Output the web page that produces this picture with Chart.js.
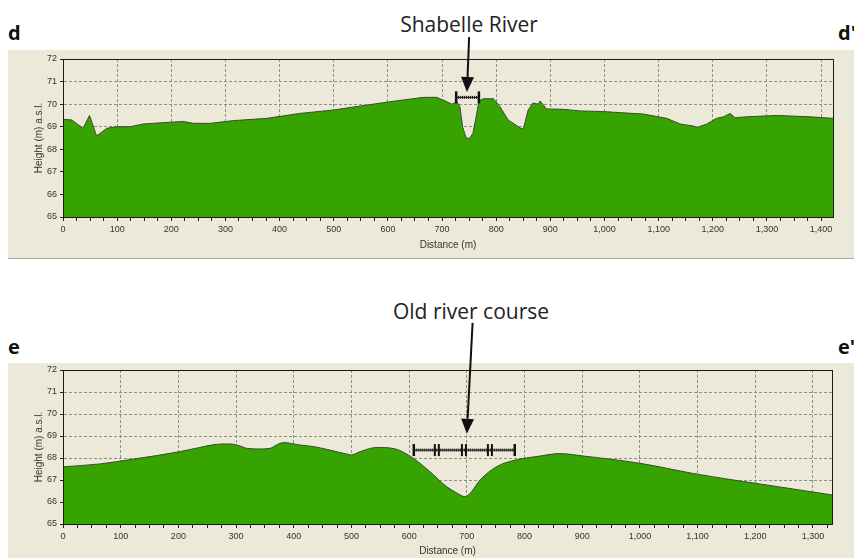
<!DOCTYPE html>
<html>
<head>
<meta charset="utf-8">
<script src="https://cdn.jsdelivr.net/npm/chart.js@4.4.0/dist/chart.umd.min.js"></script>
<style>
  body { margin: 0; background: #fff; }
  #wrap { position: relative; width: 854px; height: 558px; overflow: hidden; font-family: 'Open Sans', sans-serif; }
  .panel { position: absolute; left: 8px; width: 846px; background: #ece9d8; }
  .lbl { position: absolute; font-weight: bold; font-size: 20px; color: #111; line-height: 1; }
  .note { position: absolute; font-size: 21px; color: #222; line-height: 1; transform: translateX(-50%); white-space: nowrap; }
  canvas { position: absolute; left: 0; }
</style>
</head>
<body>
<div id="wrap">
  <div class="panel" style="top:50px;height:208px;border-bottom:1px solid #a8a8a0"></div>
  <div class="panel" style="top:363px;height:195px"></div>
  <div class="lbl" style="left:8px;top:23px">d</div>
  <div class="lbl" style="left:838px;top:23px">d'</div>
  <div class="note" style="left:469px;top:14px">Shabelle River</div>
  <div class="lbl" style="left:8px;top:337px">e</div>
  <div class="lbl" style="left:838px;top:337px">e'</div>
  <div class="note" style="left:471px;top:301px">Old river course</div>
  <canvas id="chartD" width="854" height="259" style="top:0"></canvas>
  <canvas id="chartE" width="854" height="299" style="top:259px"></canvas>
</div>
<script>
// profile d - across the Shabelle River
const distD = [0, 16, 37, 49, 62, 81, 99, 124, 148, 198, 222, 241, 272, 315, 376, 438, 499, 604, 666, 690,
  706, 718, 727, 733, 738, 744, 750, 757, 763, 768, 776, 795, 807, 822, 844, 850, 859, 868, 878, 881,
  893, 924, 955, 998, 1072, 1115, 1140, 1164, 1171, 1189, 1207, 1220, 1232, 1241, 1263, 1318, 1380, 1422];
const heightD = [69.33, 69.30, 68.93, 69.50, 68.59, 68.93, 69.00, 69.00, 69.12, 69.20, 69.23, 69.15, 69.15, 69.27, 69.37, 69.59, 69.74, 70.11, 70.30, 70.30,
  70.14, 70.00, 70.10, 69.89, 69.00, 68.53, 68.46, 68.71, 69.44, 70.14, 70.24, 70.24, 69.89, 69.30, 68.95, 68.89, 69.74, 70.05, 70.00, 70.14,
  69.79, 69.77, 69.70, 69.67, 69.56, 69.37, 69.12, 69.03, 68.97, 69.12, 69.37, 69.44, 69.59, 69.40, 69.44, 69.50, 69.44, 69.37];

// profile e - across the old river course
const distE = [0, 64, 122, 203, 237, 266, 289, 307, 318, 341, 359, 370, 382, 411, 434, 492, 500, 515, 544, 575,
  607, 636, 665, 682, 697, 708, 723, 752, 780, 827, 861, 902, 1000, 1092, 1162, 1208, 1266, 1333];
const heightE = [67.60, 67.73, 67.95, 68.29, 68.48, 68.62, 68.64, 68.55, 68.44, 68.41, 68.44, 68.59, 68.70, 68.59, 68.52, 68.18, 68.14, 68.29, 68.48, 68.42,
  67.99, 67.38, 66.70, 66.42, 66.24, 66.47, 67.00, 67.61, 67.88, 68.09, 68.20, 68.09, 67.76, 67.30, 67.00, 66.82, 66.59, 66.32];

// scale bars and arrows (data units)
const barD = [726, 768];
const barDHeight = 70.3;
const arrowD = { from: [750, 72.97], to: [746, 70.54] };
const barE = [608, 648, 695, 740, 783];
const barEHeight = 68.36;
const arrowE = { from: [710, 74.14], to: [700, 69.1] };

const yTicks = { min: 65, max: 72, step: 1 };
const xMajor = 100;
const xMinor = 25;

function drawArrow(ctx, x0, y0, x1, y1) {
  const ang = Math.atan2(y1 - y0, x1 - x0);
  const head = 15, half = 6.5;
  const bx = x1 - head * Math.cos(ang), by = y1 - head * Math.sin(ang);
  ctx.save();
  ctx.strokeStyle = '#111';
  ctx.fillStyle = '#111';
  ctx.lineWidth = 2;
  ctx.beginPath();
  ctx.moveTo(x0, y0);
  ctx.lineTo(bx, by);
  ctx.stroke();
  ctx.beginPath();
  ctx.moveTo(x1, y1);
  ctx.lineTo(bx + half * Math.sin(ang), by - half * Math.cos(ang));
  ctx.lineTo(bx - half * Math.sin(ang), by + half * Math.cos(ang));
  ctx.closePath();
  ctx.fill();
  ctx.restore();
}

function drawBar(ctx, xs, y) {
  const x0 = xs[0], x1 = xs[xs.length - 1];
  ctx.save();
  ctx.strokeStyle = '#111';
  ctx.lineWidth = 1;
  ctx.beginPath();
  ctx.moveTo(x0, y);
  ctx.lineTo(x1, y);
  ctx.stroke();
  ctx.lineWidth = 3;
  ctx.setLineDash([1, 1]);
  ctx.beginPath();
  ctx.moveTo(x0, y);
  ctx.lineTo(x1, y);
  ctx.stroke();
  ctx.fillStyle = '#111';
  xs.forEach((x, i) => {
    if (i === 0 || i === xs.length - 1) {
      ctx.fillRect(x - 1.2, y - 6, 2.5, 12);
    } else {
      ctx.fillRect(x - 3, y - 6, 2, 12);
      ctx.fillRect(x + 1, y - 6, 2, 12);
    }
  });
  ctx.restore();
}

const framePlugin = {
  id: 'frame',
  afterDraw(chart, args, opts) {
    const { ctx, chartArea: a, scales } = chart;
    ctx.save();
    ctx.strokeStyle = '#1a1a1a';
    ctx.lineWidth = 1;
    ctx.strokeRect(Math.round(a.left) + 0.5, Math.round(a.top) + 0.5, Math.round(a.right - a.left), Math.round(a.bottom - a.top));
    ctx.restore();
    const xs = opts.bar.map(v => scales.x.getPixelForValue(v));
    drawBar(ctx, xs, scales.y.getPixelForValue(opts.barY));
    drawArrow(ctx,
      scales.x.getPixelForValue(opts.arrow.from[0]), scales.y.getPixelForValue(opts.arrow.from[1]),
      scales.x.getPixelForValue(opts.arrow.to[0]), scales.y.getPixelForValue(opts.arrow.to[1]));
  }
};

function makeProfile(id, dist, height, xMax, layout, xAxisHeight, xTitlePad, yTitlePad, cubic, annot) {
  new Chart(document.getElementById(id), {
    type: 'line',
    data: {
      datasets: [{
        data: dist.map((d, i) => ({ x: d, y: height[i] })),
        fill: 'start',
        backgroundColor: '#36a300',
        borderColor: '#3a4a36',
        borderWidth: 1,
        pointRadius: 0,
        tension: cubic ? 0.4 : 0,
        cubicInterpolationMode: cubic ? 'monotone' : 'default',
      }],
    },
    options: {
      responsive: false,
      animation: false,
      devicePixelRatio: 1,
      layout: { padding: layout },
      plugins: {
        legend: { display: false },
        tooltip: { enabled: false },
        frame: annot,
      },
      scales: {
        x: {
          type: 'linear',
          min: 0,
          max: xMax,
          grid: {
            color: c => (c.tick && c.tick.value % xMajor === 0 ? '#8f8f8a' : 'transparent'),
            tickColor: '#222',
            tickLength: 4,
            tickBorderDash: [],
          },
          border: { color: '#1a1a1a', dash: [3, 2] },
          ticks: {
            stepSize: xMinor,
            autoSkip: false,
            includeBounds: false,
            maxRotation: 0,
            padding: 3,
            color: '#333',
            font: { family: 'Liberation Sans', size: 9 },
            callback: v => (v % xMajor === 0 ? v.toLocaleString('en-US') : ''),
          },
          title: {
            display: true,
            text: 'Distance (m)',
            color: '#333',
            font: { family: 'Liberation Sans', size: 10 },
            padding: { top: 0, bottom: xTitlePad },
          },
          afterFit: s => { s.height = xAxisHeight; },
        },
        y: {
          min: yTicks.min,
          max: yTicks.max,
          grid: { color: '#8f8f8a', tickColor: '#222', tickLength: 3, tickBorderDash: [] },
          border: { color: '#1a1a1a', dash: [3, 2] },
          ticks: {
            stepSize: yTicks.step,
            padding: 3,
            color: '#333',
            font: { family: 'Liberation Sans', size: 9 },
          },
          title: {
            display: true,
            text: 'Height (m) a.s.l.',
            color: '#333',
            font: { family: 'Liberation Sans', size: 10 },
            padding: { top: yTitlePad, bottom: 0 },
          },
          afterFit: s => { s.width = 63; },
        },
      },
    },
    plugins: [framePlugin],
  });
}

makeProfile('chartD', distD, heightD, 1422, { top: 59, right: 21, left: 0, bottom: 0 }, 42, 8, 33, false,
  { bar: barD, barY: barDHeight, arrow: arrowD });
makeProfile('chartE', distE, heightE, 1333, { top: 111, right: 22, left: 0, bottom: 0 }, 34, 1, 33, true,
  { bar: barE, barY: barEHeight, arrow: arrowE });
</script>
</body>
</html>
